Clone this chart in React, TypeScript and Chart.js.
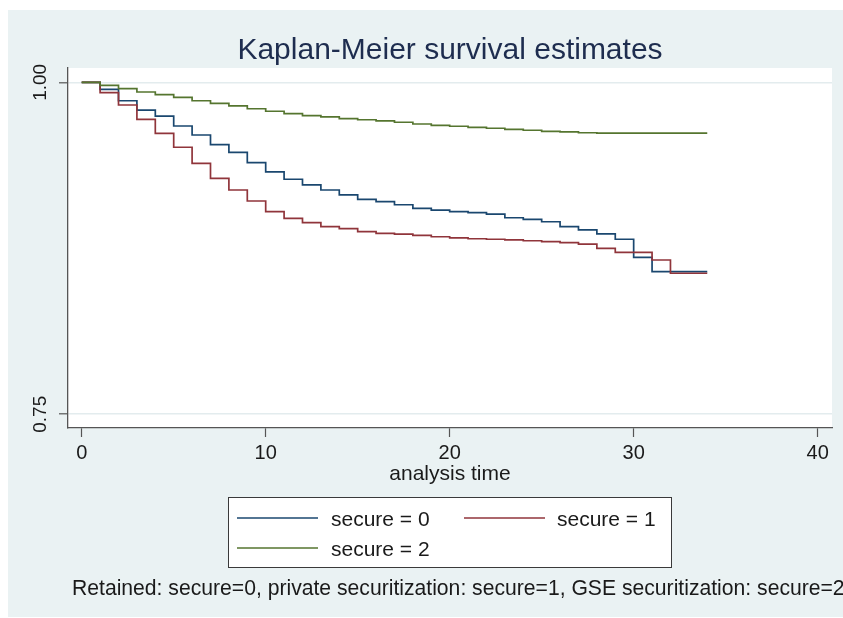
import React, { useEffect, useRef } from "react";
import { Chart, registerables } from "chart.js";

Chart.register(...registerables);

// ---- data ----
const times = [0, 1, 2, 3, 4, 5, 6, 7, 8, 9, 10, 11, 12, 13, 14, 15, 16, 17, 18, 19, 20, 21, 22, 23, 24, 25, 26, 27, 28, 29, 30, 31, 32, 33, 34];

const secure0 = [
  1.0, 0.9947, 0.9861, 0.9791, 0.9746, 0.9671, 0.9603, 0.953, 0.9473, 0.9395,
  0.9325, 0.927, 0.9227, 0.9189, 0.9152, 0.9119, 0.9101, 0.9078, 0.9051, 0.9038,
  0.9026, 0.9018, 0.9008, 0.898, 0.8968, 0.895, 0.8913, 0.8888, 0.8858, 0.8818,
  0.8682, 0.8574, 0.8574, 0.8574, 0.8574,
];

const secure1 = [
  1.0, 0.9922, 0.9829, 0.9721, 0.9616, 0.9511, 0.939, 0.9277, 0.9189, 0.9106,
  0.9026, 0.8976, 0.8943, 0.8913, 0.8898, 0.8875, 0.8863, 0.8856, 0.8848, 0.8837,
  0.8828, 0.8822, 0.8818, 0.8813, 0.8807, 0.88, 0.8792, 0.8782, 0.875, 0.872,
  0.872, 0.8662, 0.8562, 0.8562, 0.8562,
];

const secure2 = [
  1.0, 0.9977, 0.9952, 0.9927, 0.9907, 0.9887, 0.9861, 0.9842, 0.9822, 0.9801,
  0.9782, 0.9764, 0.9749, 0.9739, 0.9726, 0.9718, 0.9709, 0.9699, 0.9686, 0.9676,
  0.9669, 0.9661, 0.9654, 0.9646, 0.9639, 0.9631, 0.9626, 0.962, 0.9618, 0.9618,
  0.9618, 0.9618, 0.9618, 0.9618, 0.9618,
];

const seriesLabels = ["secure = 0", "secure = 1", "secure = 2"];
const seriesColors = ["#1a476f", "#90353b", "#55752f"];
const xTicks = [0, 10, 20, 30, 40];
const yTicks = [0.75, 1.0];
const titleText = "Kaplan-Meier survival estimates";
const xTitleText = "analysis time";
const noteText =
  "Retained: secure=0, private securitization: secure=1, GSE securitization: secure=2";

const FONT = '"Liberation Sans", Arial, Helvetica, sans-serif';
const BG = "#eaf2f3";
const AXIS = "#555555";

const decorPlugin = {
  id: "stataDecor",
  beforeDraw(chart: any) {
    const { ctx, chartArea } = chart;
    ctx.save();
    ctx.fillStyle = BG;
    ctx.fillRect(8, 10, chart.width - 8, 607);
    ctx.fillStyle = "#ffffff";
    ctx.fillRect(
      chartArea.left,
      chartArea.top,
      chartArea.right - chartArea.left,
      chartArea.bottom - chartArea.top
    );
    ctx.restore();
  },
  afterDraw(chart: any) {
    const { ctx, chartArea } = chart;
    ctx.save();
    // title
    ctx.fillStyle = "#1e2d4f";
    ctx.font = `30px ${FONT}`;
    ctx.textAlign = "center";
    ctx.textBaseline = "alphabetic";
    ctx.fillText(titleText, (chartArea.left + chartArea.right) / 2, 59);

    // legend box
    ctx.fillStyle = "#ffffff";
    ctx.fillRect(228.5, 497.5, 443, 70);
    ctx.strokeStyle = "#3a3a3a";
    ctx.lineWidth = 1;
    ctx.strokeRect(228.5, 497.5, 443, 70);
    const colLine = [237, 464];
    const colText = [331, 557];
    const rowY = [518, 548];
    chart.data.datasets.forEach((ds: any, i: number) => {
      const c = i % 2;
      const r = Math.floor(i / 2);
      ctx.strokeStyle = ds.borderColor;
      ctx.lineWidth = 1.6;
      ctx.beginPath();
      ctx.moveTo(colLine[c], rowY[r]);
      ctx.lineTo(colLine[c] + 81, rowY[r]);
      ctx.stroke();
      ctx.fillStyle = "#1a1a1a";
      ctx.font = `21px ${FONT}`;
      ctx.textAlign = "left";
      ctx.textBaseline = "alphabetic";
      ctx.fillText(ds.label, colText[c], rowY[r] + 7.5);
    });

    // note
    ctx.fillStyle = "#1a1a1a";
    ctx.font = `21.15px ${FONT}`;
    ctx.textAlign = "left";
    ctx.textBaseline = "alphabetic";
    ctx.fillText(noteText, 72, 595);
    ctx.restore();
  },
};

export default function App() {
  const canvasRef = useRef<HTMLCanvasElement | null>(null);

  useEffect(() => {
    if (!canvasRef.current) return;
    const series = [secure0, secure1, secure2];
    const chart = new Chart(canvasRef.current, {
      type: "line",
      data: {
        datasets: series.map((vals, i) => ({
          label: seriesLabels[i],
          data: times.map((t, j) => ({ x: t, y: vals[j] })),
          borderColor: seriesColors[i],
          backgroundColor: seriesColors[i],
          borderWidth: 1.7,
          pointRadius: 0,
          stepped: true,
          fill: false,
          order: 3 - i,
        })),
      },
      options: {
        responsive: false,
        animation: false,
        devicePixelRatio: 1,
        layout: { padding: { left: 8, right: 11, top: 68, bottom: 130 } },
        plugins: {
          legend: { display: false },
          title: { display: false },
          tooltip: { enabled: false },
        },
        scales: {
          x: {
            type: "linear",
            min: -0.745,
            max: 40.78,
            afterBuildTicks: (scale: any) => {
              scale.ticks = xTicks.map((v) => ({ value: v }));
            },
            afterFit: (scale: any) => {
              scale.height = 60;
            },
            ticks: {
              color: "#1a1a1a",
              font: { family: FONT, size: 20 },
              padding: 4,
              maxRotation: 0,
              minRotation: 0,
              callback: (v: any) => String(v),
            },
            grid: {
              drawOnChartArea: false,
              drawTicks: true,
              tickLength: 9,
              tickColor: AXIS,
              tickWidth: 1.2,
            },
            border: { display: true, color: AXIS, width: 1.3 },
            title: {
              display: true,
              text: xTitleText,
              color: "#1a1a1a",
              font: { family: FONT, size: 21 },
              padding: { top: 0, bottom: 1.4 },
            },
          },
          y: {
            type: "linear",
            min: 0.73968,
            max: 1.01077,
            afterBuildTicks: (scale: any) => {
              scale.ticks = yTicks.map((v) => ({ value: v }));
            },
            afterFit: (scale: any) => {
              scale.width = 60;
            },
            ticks: {
              color: "#1a1a1a",
              font: { family: FONT, size: 19 },
              padding: 0,
              minRotation: 90,
              maxRotation: 90,
              crossAlign: "center",
              callback: (v: any) => Number(v).toFixed(2),
            },
            grid: {
              drawOnChartArea: true,
              color: "#e3ecee",
              lineWidth: 1.6,
              drawTicks: true,
              tickLength: 9,
              tickColor: AXIS,
              tickWidth: 1.2,
            },
            border: { display: true, color: AXIS, width: 1.3 },
          },
        },
      } as any,
      plugins: [decorPlugin],
    });
    return () => chart.destroy();
  }, []);

  return (
    <div style={{ position: "fixed", left: 0, top: 0, width: 843, height: 618 }}>
      <canvas ref={canvasRef} width={843} height={618} style={{ display: "block" }} />
    </div>
  );
}
